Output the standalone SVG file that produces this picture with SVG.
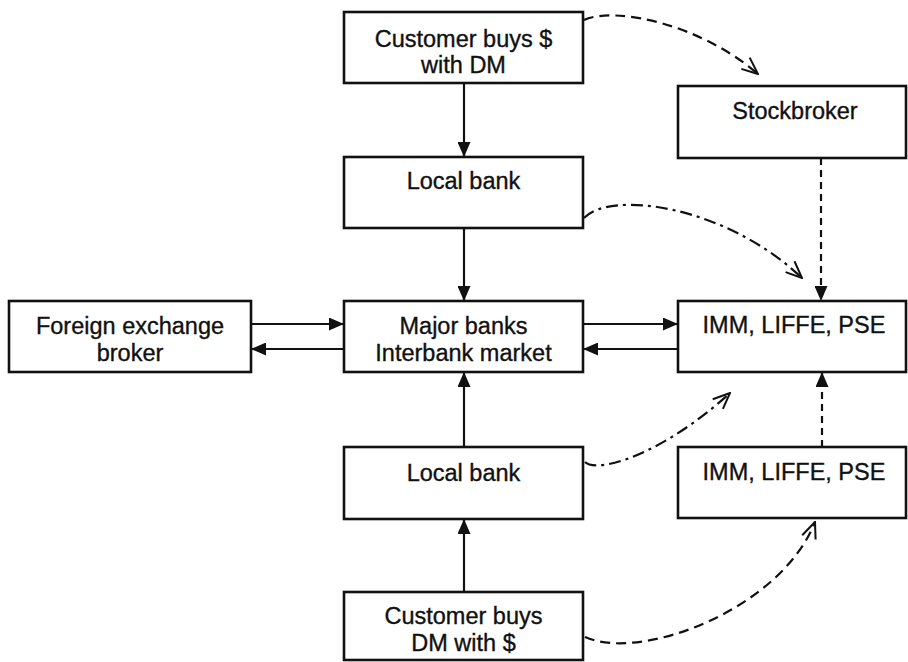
<svg xmlns="http://www.w3.org/2000/svg" width="908" height="662" viewBox="0 0 908 662">
  <style>
    .box { fill: #fff; stroke: #111; stroke-width: 2.6; }
    .lbl { font-family: "Liberation Sans", Arial, sans-serif; font-size: 23.5px; fill: #111; stroke: #111; stroke-width: 0.35; text-anchor: middle; }
    .flow { fill: none; stroke: #111; stroke-width: 2.2; }
    .dash { fill: none; stroke: #111; stroke-width: 2.2; stroke-dasharray: 7 5; }
    .curve-d { fill: none; stroke: #111; stroke-width: 2.2; stroke-dasharray: 10 6; }
    .curve-dd { fill: none; stroke: #111; stroke-width: 2.2; stroke-dasharray: 12 5 3 5; }
  </style>
  <defs>
    <marker id="head" viewBox="0 0 15 13" refX="15" refY="6.5" markerWidth="15" markerHeight="13" markerUnits="userSpaceOnUse" orient="auto">
      <path d="M0,0 L15,6.5 L0,13 Z" fill="#111"/>
    </marker>
    <marker id="open" viewBox="0 0 20 16" refX="19" refY="8" markerWidth="20" markerHeight="16" markerUnits="userSpaceOnUse" orient="auto">
      <path d="M2,1 L19,8 L3,15" fill="none" stroke="#111" stroke-width="2"/>
    </marker>
  </defs>

  <rect width="908" height="662" fill="#fff"/>

  <!-- connectors -->
  <g id="connectors">
    <line class="flow" x1="464" y1="83" x2="464" y2="157" marker-end="url(#head)"/>
    <line class="flow" x1="464" y1="228" x2="464" y2="301" marker-end="url(#head)"/>
    <line class="flow" x1="464" y1="447" x2="464" y2="372" marker-end="url(#head)"/>
    <line class="flow" x1="464" y1="592" x2="464" y2="519" marker-end="url(#head)"/>
    <line class="flow" x1="251" y1="324" x2="344" y2="324" marker-end="url(#head)"/>
    <line class="flow" x1="344" y1="349" x2="251" y2="349" marker-end="url(#head)"/>
    <line class="flow" x1="583" y1="324" x2="678" y2="324" marker-end="url(#head)"/>
    <line class="flow" x1="678" y1="349" x2="583" y2="349" marker-end="url(#head)"/>
    <line class="dash" x1="821" y1="158" x2="821" y2="301" marker-end="url(#head)"/>
    <line class="dash" x1="822" y1="447" x2="822" y2="372" marker-end="url(#head)"/>
    <path class="curve-d" d="M584,20 C615,6 700,24 758,74" marker-end="url(#open)"/>
    <path class="curve-dd" d="M584,218 C610,190 725,205 802,278" marker-end="url(#open)"/>
    <path class="curve-dd" d="M585,462 C597,474 662,455 730,393" marker-end="url(#open)"/>
    <path class="curve-d" d="M585,637 C640,662 780,610 815,522" marker-end="url(#open)"/>
  </g>

  <!-- nodes -->
  <g id="customer-buys-dollars">
    <rect class="box" x="344" y="12" width="239" height="71"/>
    <text class="lbl" x="463.5" y="47">Customer buys $</text>
    <text class="lbl" x="463.5" y="73">with DM</text>
  </g>
  <g id="stockbroker">
    <rect class="box" x="678" y="86" width="228" height="72"/>
    <text class="lbl" x="795" y="119">Stockbroker</text>
  </g>
  <g id="local-bank-top">
    <rect class="box" x="344" y="157" width="239" height="71"/>
    <text class="lbl" x="463.5" y="189">Local bank</text>
  </g>
  <g id="fx-broker">
    <rect class="box" x="9" y="301" width="242" height="71"/>
    <text class="lbl" x="130" y="334">Foreign exchange</text>
    <text class="lbl" x="130" y="361">broker</text>
  </g>
  <g id="major-banks">
    <rect class="box" x="344" y="301" width="239" height="71"/>
    <text class="lbl" x="463.5" y="334">Major banks</text>
    <text class="lbl" x="463.5" y="361">Interbank market</text>
  </g>
  <g id="exchanges-upper">
    <rect class="box" x="678" y="301" width="228" height="71"/>
    <text class="lbl" x="794" y="333">IMM, LIFFE, PSE</text>
  </g>
  <g id="local-bank-bottom">
    <rect class="box" x="344" y="447" width="239" height="72"/>
    <text class="lbl" x="463.5" y="481">Local bank</text>
  </g>
  <g id="exchanges-lower">
    <rect class="box" x="678" y="447" width="228" height="71"/>
    <text class="lbl" x="794" y="480">IMM, LIFFE, PSE</text>
  </g>
  <g id="customer-buys-dm">
    <rect class="box" x="344" y="592" width="239" height="68"/>
    <text class="lbl" x="463.5" y="624">Customer buys</text>
    <text class="lbl" x="463.5" y="651">DM with $</text>
  </g>
</svg>
